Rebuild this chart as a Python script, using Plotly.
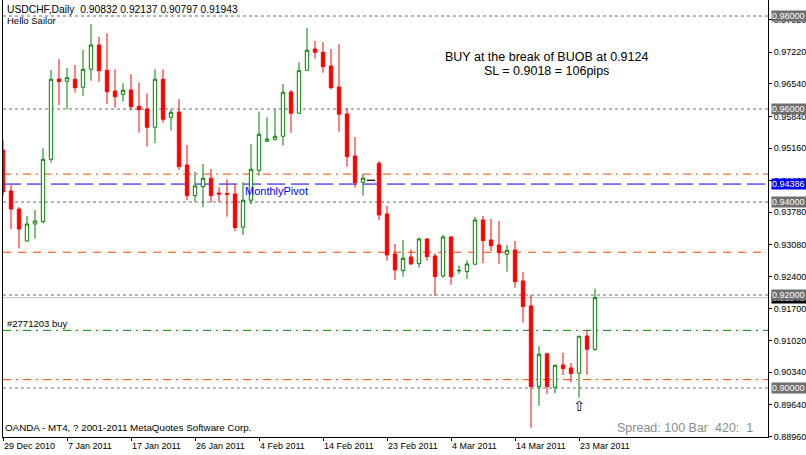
import plotly.graph_objects as go

# ---------------- data ----------------
bar_dates = [
    "2010-12-29", "2010-12-30", "2010-12-31", "2011-01-02", "2011-01-03", "2011-01-04", "2011-01-05", "2011-01-06",
    "2011-01-07", "2011-01-09", "2011-01-10", "2011-01-11", "2011-01-12", "2011-01-13", "2011-01-14", "2011-01-16",
    "2011-01-17", "2011-01-18", "2011-01-19", "2011-01-20", "2011-01-21", "2011-01-23", "2011-01-24", "2011-01-25",
    "2011-01-26", "2011-01-27", "2011-01-28", "2011-01-30", "2011-01-31", "2011-02-01", "2011-02-02", "2011-02-03",
    "2011-02-04", "2011-02-06", "2011-02-07", "2011-02-08", "2011-02-09", "2011-02-10", "2011-02-11", "2011-02-13",
    "2011-02-14", "2011-02-15", "2011-02-16", "2011-02-17", "2011-02-18", "2011-02-20", "2011-02-21", "2011-02-22",
    "2011-02-23", "2011-02-24", "2011-02-25", "2011-02-27", "2011-02-28", "2011-03-01", "2011-03-02", "2011-03-03",
    "2011-03-04", "2011-03-06", "2011-03-07", "2011-03-08", "2011-03-09", "2011-03-10", "2011-03-11", "2011-03-13",
    "2011-03-14", "2011-03-15", "2011-03-16", "2011-03-17", "2011-03-18", "2011-03-20", "2011-03-21", "2011-03-22",
    "2011-03-23", "2011-03-24", "2011-03-25",
]

opens = [
    0.95118, 0.94237, 0.93849, 0.93161, 0.93527, 0.93576, 0.94918, 0.96645, 0.96596, 0.96639,
    0.96467, 0.96854, 0.97376, 0.96833, 0.96387, 0.96317, 0.96409, 0.96059, 0.96000, 0.95607,
    0.96639, 0.95822, 0.95936, 0.94796, 0.94136, 0.94330, 0.94511, 0.94194, 0.94179, 0.94173,
    0.93457, 0.94038, 0.94683, 0.95306, 0.95349, 0.95414, 0.96366, 0.95908, 0.96833, 0.97290,
    0.97220, 0.96925, 0.96473, 0.95893, 0.94990, 0.94425, None, 0.94833, 0.93743, 0.92883,
    0.92524, 0.92818, 0.92674, 0.93205, 0.92840, 0.92410, 0.93248, 0.92520, 0.92502, 0.92662,
    0.93614, 0.93184, 0.93076, 0.92877, 0.92969, 0.92302, 0.91765, 0.90030, 0.90734, 0.90017,
    0.90496, 0.90432, 0.90318, 0.91120, 0.90832,
]
highs = [
    0.95333, 0.94366, 0.93892, 0.93699, 0.93828, 0.95155, 0.96839, 0.97075, 0.96882, 0.96946,
    0.97269, 0.97828, 0.97555, 0.97628, 0.96854, 0.96553, 0.96747, 0.96566, 0.96338, 0.96854,
    0.96854, 0.95994, 0.96209, 0.95226, 0.94652, 0.94818, 0.94710, 0.94317, 0.94489, 0.94382,
    0.94425, 0.95248, 0.95942, 0.95822, 0.95994, 0.96538, 0.96409, 0.97004, 0.97748, 0.97462,
    0.97441, 0.97290, 0.97392, 0.96016, 0.95398, 0.94603, None, 0.94882, 0.93915, 0.93098,
    0.93184, 0.92984, 0.93233, 0.93216, 0.92898, 0.93298, 0.93259, 0.92640, 0.92748, 0.93678,
    0.93699, 0.93635, 0.93592, 0.93076, 0.93162, 0.92490, 0.92001, 0.90905, 0.90761, 0.90497,
    0.90761, 0.90539, 0.91120, 0.91249, 0.92137,
]
lows = [
    0.94129, 0.93419, 0.93000, 0.93150, 0.93215, 0.93538, 0.94845, 0.96086, 0.95994, 0.96351,
    0.96286, 0.96609, 0.96587, 0.96108, 0.96028, 0.96157, 0.95979, 0.95491, 0.95190, 0.95263,
    0.95706, 0.95534, 0.94689, 0.94033, 0.94001, 0.93887, 0.93986, 0.93994, 0.93685, 0.93377,
    0.93291, 0.93952, 0.94566, 0.95302, 0.95319, 0.95211, 0.95491, 0.95904, 0.96828, 0.97082,
    0.96781, 0.96424, 0.95512, 0.94760, 0.94313, 0.94136, None, 0.93614, 0.92739, 0.92324,
    0.92395, 0.92646, 0.92588, 0.92739, 0.91986, 0.92367, 0.92223, 0.92453, 0.92345, 0.92657,
    0.92683, 0.92947, 0.92668, 0.92502, 0.92158, 0.91406, 0.89148, 0.89621, 0.89873, 0.89888,
    0.90281, 0.90124, 0.89793, 0.90288, 0.90797,
]
closes = [
    0.94215, 0.93849, 0.93419, 0.93527, 0.93591, 0.94918, 0.96639, 0.96587, 0.96673, 0.96458,
    0.96854, 0.97376, 0.96824, 0.96372, 0.96265, 0.96403, 0.96050, 0.95985, 0.95607, 0.96639,
    0.95779, 0.95930, 0.94760, 0.94136, 0.94345, 0.94511, 0.94136, 0.94173, 0.94166, 0.93448,
    0.94038, 0.94704, 0.95457, 0.95355, 0.95414, 0.96360, 0.95908, 0.96824, 0.97263, 0.97220,
    0.96910, 0.96458, 0.95887, 0.94975, 0.94416, 0.94511, None, 0.93721, 0.92861, 0.92539,
    0.92791, 0.92668, 0.93205, 0.92825, 0.92395, 0.93248, 0.92395, 0.92528, 0.92668, 0.93614,
    0.93169, 0.93061, 0.92911, 0.92963, 0.92287, 0.91750, 0.90030, 0.90727, 0.90030, 0.90490,
    0.90417, 0.90309, 0.91114, 0.90834, 0.91943,
]

# flat (holiday) bar shown as a dash
flat_bar_dates = ["2011-02-21"]
flat_bar_prices = [0.94468]

# buy arrow
arrow_dates = ["2011-03-23"]
arrow_prices = [0.89583]

tick_dates = ["2010-12-29", "2011-01-07", "2011-01-17", "2011-01-26", "2011-02-04",
              "2011-02-14", "2011-02-23", "2011-03-04", "2011-03-14", "2011-03-23"]
tick_text = ["29 Dec 2010", "7 Jan 2011", "17 Jan 2011", "26 Jan 2011", "4 Feb 2011",
             "14 Feb 2011", "23 Feb 2011", "4 Mar 2011", "14 Mar 2011", "23 Mar 2011"]

price_ticks = [0.97920, 0.97220, 0.96540, 0.95840, 0.95160, 0.94460, 0.93780,
               0.93080, 0.92400, 0.91700, 0.91020, 0.90340, 0.89640, 0.88960]

round_levels = [0.98, 0.96, 0.94, 0.92, 0.90]
monthly_pivot = 0.94386
orange_dashdot_levels = [0.9460, 0.9018]
orange_dash_levels = [0.9292]
order_level = 0.9124
bid_price = 0.91943

# ---------------- figure ----------------
W, H = 806, 455
ML, MR, MT, MB = 3, 38, 0, 18
PW, PH = W - ML - MR, H - MT - MB
Y_TOP, Y_BOT = 0.98344, 0.98344 - PH / 4650.0
FONT = "Liberation Sans, Arial, sans-serif"
NB = "\u00a0"

xs = list(range(len(bar_dates)))
idx = {d: i for i, d in enumerate(bar_dates)}


def px_x(px):
    return (px - ML) / PW


def px_y(py):
    return 1 - (py - MT) / PH


fig = go.Figure()

fig.add_trace(go.Candlestick(
    x=xs, open=opens, high=highs, low=lows, close=closes,
    increasing=dict(line=dict(color="#008000", width=1), fillcolor="#ffffff"),
    decreasing=dict(line=dict(color="#ff0000", width=1), fillcolor="#ff0000"),
    whiskerwidth=0, hoverinfo="skip", showlegend=False,
))

fig.add_trace(go.Scatter(
    x=[idx[d] for d in flat_bar_dates], y=flat_bar_prices, mode="markers",
    marker=dict(symbol="line-ew", size=6, line=dict(color="#000000", width=1.2)),
    hoverinfo="skip", showlegend=False,
))

fig.add_trace(go.Scatter(
    x=[idx[d] for d in arrow_dates], y=arrow_prices, mode="text", text=["⇧"],
    textfont=dict(family="DejaVu Sans", size=14, color="#000000"),
    hoverinfo="skip", showlegend=False,
))

shapes = []
for lv in round_levels:
    shapes.append(dict(type="line", xref="paper", x0=0, x1=1, yref="y", y0=lv, y1=lv,
                       line=dict(color="#6a6a6a", width=1, dash="3px,3px"), layer="below"))
shapes.append(dict(type="line", xref="paper", x0=0, x1=1, yref="y", y0=bid_price, y1=bid_price,
                   line=dict(color="#c0c0c0", width=1), layer="below"))
for lv in orange_dashdot_levels:
    shapes.append(dict(type="line", xref="paper", x0=0, x1=1, yref="y", y0=lv, y1=lv,
                       line=dict(color="#ff4500", width=1, dash="8px,5px,2px,5px"), layer="below"))
for lv in orange_dash_levels:
    shapes.append(dict(type="line", xref="paper", x0=0, x1=1, yref="y", y0=lv, y1=lv,
                       line=dict(color="#ff4500", width=1, dash="8px,7px"), layer="below"))
shapes.append(dict(type="line", xref="paper", x0=0, x1=1, yref="y", y0=order_level, y1=order_level,
                   line=dict(color="#008000", width=1, dash="8px,5px,2px,5px"), layer="below"))
shapes.append(dict(type="line", xref="paper", x0=0, x1=1, yref="y", y0=monthly_pivot, y1=monthly_pivot,
                   line=dict(color="#0000ff", width=1, dash="18px,6px"), layer="below"))

annotations = []


def price_box(level, bg):
    annotations.append(dict(
        xref="paper", x=px_x(771), xanchor="left", yref="y", y=level, yanchor="middle",
        text=f"{level:.5f}", showarrow=False, bgcolor=bg, borderpad=0,
        width=36, height=10, align="left",
        font=dict(family=FONT, size=9, color="#ffffff"),
    ))


price_box(bid_price, "#000000")
for lv in round_levels:
    price_box(lv, "#6e6e6e")
price_box(monthly_pivot, "#0000ff")

annotations += [
    dict(xref="paper", x=px_x(5), xanchor="left", yref="paper", y=px_y(9.5), yanchor="middle",
         text="USDCHF,Daily" + NB + NB + "0.90832 0.92137 0.90797 0.91943", showarrow=False,
         font=dict(family=FONT, size=10.3, color="#000000")),
    dict(xref="paper", x=px_x(5), xanchor="left", yref="paper", y=px_y(20.5), yanchor="middle",
         text="Hello Sailor", showarrow=False, font=dict(family=FONT, size=9.5, color="#000000")),
    dict(xref="paper", x=px_x(5), xanchor="left", yref="paper", y=px_y(323), yanchor="middle",
         text="#2771203 buy", showarrow=False, font=dict(family=FONT, size=9.5, color="#000000")),
    dict(xref="x", x=30.0, xanchor="left", yref="y", y=0.94237, yanchor="middle",
         text="MonthlyPivot", showarrow=False, font=dict(family=FONT, size=11, color="#0000ff")),
    dict(xref="x", x=67.9, xanchor="center", yref="y", y=0.97118, yanchor="middle",
         text="BUY at the break of BUOB at 0.9124", showarrow=False,
         font=dict(family=FONT, size=12.5, color="#000000")),
    dict(xref="x", x=67.9, xanchor="center", yref="y", y=0.96820, yanchor="middle",
         text="SL = 0.9018 = 106pips", showarrow=False,
         font=dict(family=FONT, size=12.5, color="#000000")),
    dict(xref="paper", x=px_x(3), xanchor="left", yref="paper", y=px_y(427.5), yanchor="middle",
         text="OANDA - MT4, ? 2001-2011 MetaQuotes Software Corp.", showarrow=False,
         font=dict(family=FONT, size=9.8, color="#000000")),
    dict(xref="paper", x=px_x(755), xanchor="right", yref="paper", y=px_y(428), yanchor="middle",
         text="Spread: 100 Bar" + NB + NB + "420:" + NB + NB + "1", showarrow=False,
         font=dict(family=FONT, size=12.5, color="#8c8c8c")),
]

fig.update_layout(
    width=W, height=H, margin=dict(l=ML, r=MR, t=MT, b=MB, pad=0, autoexpand=False),
    paper_bgcolor="#ffffff", plot_bgcolor="#ffffff",
    showlegend=False, boxgap=0.4, hovermode=False,
    shapes=shapes, annotations=annotations,
    font=dict(family=FONT, size=9, color="#000000"),
    xaxis=dict(
        range=[0, PW / 8.0], tickmode="array",
        tickvals=[idx[d] for d in tick_dates], ticktext=tick_text,
        ticks="outside", ticklen=3, tickcolor="#000000", ticklabelposition="outside right",
        showgrid=False, zeroline=False, showline=True, linecolor="#000000", linewidth=1,
        rangeslider=dict(visible=False), fixedrange=True, automargin=False,
        tickfont=dict(family=FONT, size=9, color="#000000"),
    ),
    yaxis=dict(
        range=[Y_BOT, Y_TOP], side="right", tickmode="array", tickvals=price_ticks,
        tickformat=".5f", ticks="outside", ticklen=3, tickcolor="#000000",
        showgrid=False, zeroline=False, showline=True, mirror=True,
        linecolor="#000000", linewidth=1, fixedrange=True, automargin=False,
        tickfont=dict(family=FONT, size=9, color="#000000"),
    ),
)

fig.write_html(
    "out.html",
    config={"displayModeBar": False, "staticPlot": True},
    post_script="document.body.style.margin='0';document.body.style.overflow='hidden';",
)
